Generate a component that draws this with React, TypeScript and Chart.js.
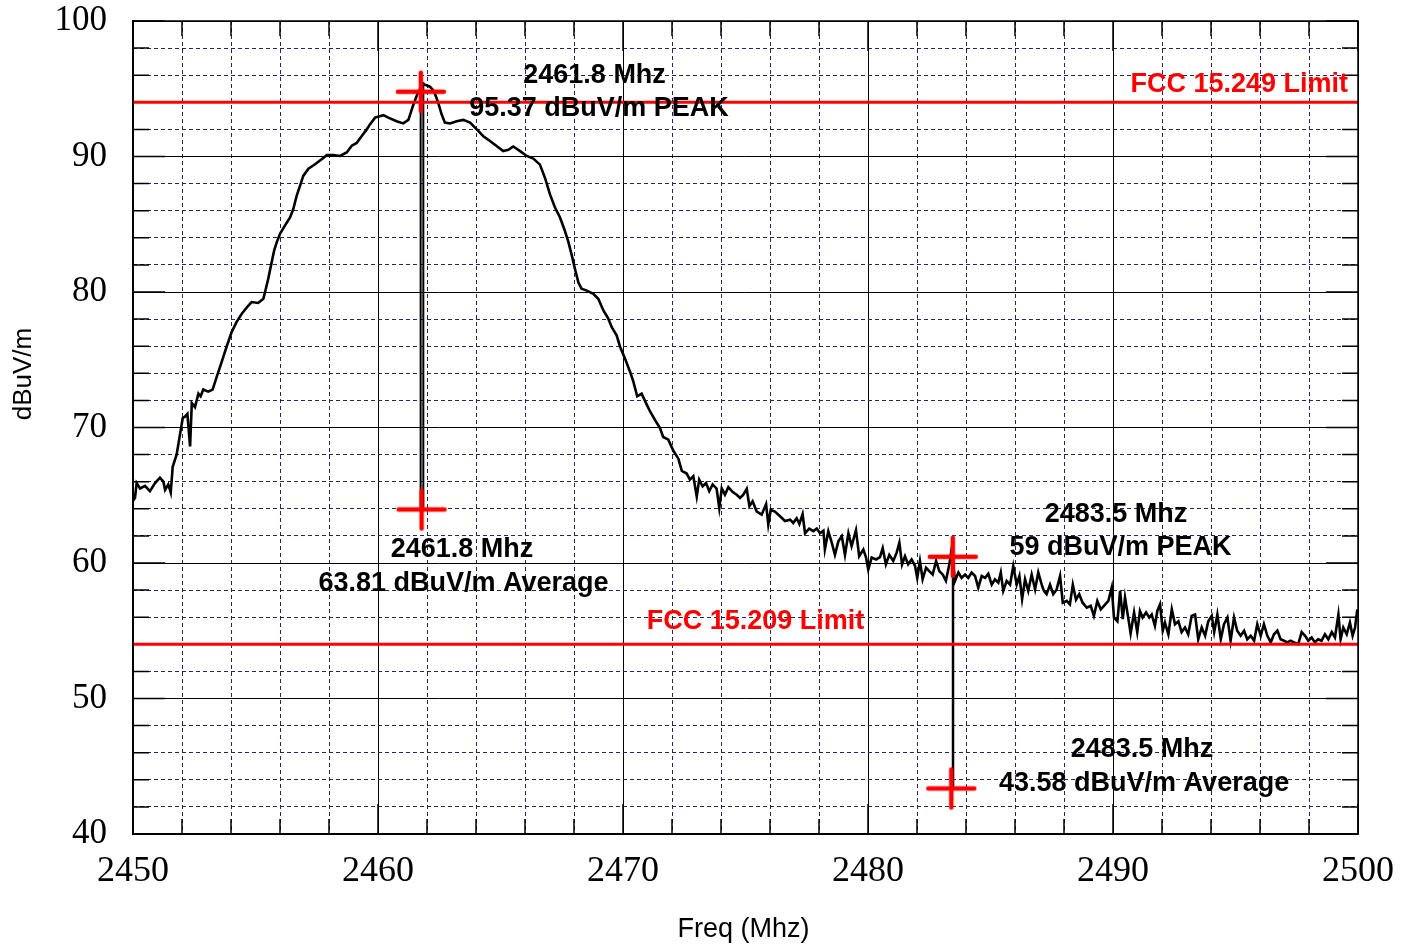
import React, { useEffect, useRef } from 'react';
import { Chart, registerables } from 'chart.js';

Chart.register(...registerables);

// ---- data ----
const traceFreq = [
  2450.00, 2450.08, 2450.15, 2450.29, 2450.49, 2450.69, 2450.90, 2451.10, 2451.24, 2451.31,
  2451.44, 2451.54, 2451.62, 2451.78, 2451.92, 2452.03, 2452.12, 2452.22, 2452.33, 2452.40,
  2452.53, 2452.67, 2452.76, 2452.87, 2453.07, 2453.25, 2453.42, 2453.62, 2453.82, 2454.03,
  2454.23, 2454.44, 2454.71, 2454.84, 2455.11, 2455.32, 2455.39, 2455.52, 2455.66, 2455.76,
  2455.87, 2456.00, 2456.20, 2456.41, 2456.54, 2456.68, 2456.82, 2456.95, 2457.16, 2457.43,
  2457.70, 2457.91, 2458.18, 2458.45, 2458.72, 2458.93, 2459.13, 2459.33, 2459.54, 2459.67,
  2459.88, 2460.22, 2460.42, 2460.76, 2461.03, 2461.24, 2461.42, 2461.60, 2461.74, 2461.88,
  2462.12, 2462.29, 2462.46, 2462.60, 2462.73, 2462.94, 2463.21, 2463.48, 2463.76, 2464.03,
  2464.30, 2464.57, 2464.84, 2465.11, 2465.32, 2465.52, 2465.80, 2466.07, 2466.34, 2466.61,
  2466.82, 2467.02, 2467.22, 2467.43, 2467.63, 2467.77, 2467.91, 2468.04, 2468.18, 2468.31,
  2468.52, 2468.79, 2468.99, 2469.20, 2469.40, 2469.54, 2469.74, 2469.88, 2470.08, 2470.29,
  2470.42, 2470.58, 2470.76, 2470.94, 2471.10, 2471.31, 2471.51, 2471.64, 2471.85, 2472.05,
  2472.26, 2472.40, 2472.60, 2472.73, 2472.87, 2473.01, 2473.11, 2473.25, 2473.39, 2473.52,
  2473.66, 2473.82, 2473.93, 2474.03, 2474.16, 2474.30, 2474.48, 2474.64, 2474.78, 2474.91,
  2475.05, 2475.16, 2475.29, 2475.46, 2475.66, 2475.84, 2475.93, 2476.03, 2476.20, 2476.41,
  2476.61, 2476.82, 2476.95, 2477.09, 2477.20, 2477.33, 2477.43, 2477.60, 2477.77, 2477.91,
  2478.04, 2478.18, 2478.24, 2478.38, 2478.52, 2478.65, 2478.79, 2478.93, 2479.06, 2479.20,
  2479.33, 2479.51, 2479.64, 2479.81, 2479.92, 2480.01, 2480.15, 2480.33, 2480.49, 2480.60,
  2480.73, 2480.87, 2481.03, 2481.17, 2481.28, 2481.39, 2481.51, 2481.64, 2481.78, 2481.92,
  2482.01, 2482.12, 2482.23, 2482.37, 2482.50, 2482.64, 2482.78, 2482.91, 2483.05, 2483.18,
  2483.32, 2483.42, 2483.55, 2483.69, 2483.82, 2483.96, 2484.09, 2484.23, 2484.37, 2484.50,
  2484.64, 2484.78, 2484.91, 2485.05, 2485.18, 2485.32, 2485.42, 2485.52, 2485.66, 2485.80,
  2485.93, 2486.07, 2486.18, 2486.29, 2486.41, 2486.54, 2486.68, 2486.82, 2486.95, 2487.09,
  2487.18, 2487.29, 2487.43, 2487.56, 2487.70, 2487.84, 2487.95, 2488.11, 2488.24, 2488.36,
  2488.49, 2488.62, 2488.76, 2488.93, 2489.09, 2489.22, 2489.36, 2489.50, 2489.63, 2489.81,
  2489.95, 2490.04, 2490.18, 2490.29, 2490.40, 2490.49, 2490.62, 2490.72, 2490.86, 2490.99,
  2491.10, 2491.21, 2491.35, 2491.48, 2491.58, 2491.71, 2491.81, 2491.92, 2492.03, 2492.12,
  2492.26, 2492.40, 2492.53, 2492.67, 2492.80, 2492.94, 2493.07, 2493.21, 2493.35, 2493.48,
  2493.62, 2493.76, 2493.89, 2494.03, 2494.13, 2494.26, 2494.40, 2494.53, 2494.67, 2494.80,
  2494.94, 2495.07, 2495.21, 2495.35, 2495.48, 2495.62, 2495.76, 2495.89, 2496.03, 2496.16,
  2496.30, 2496.44, 2496.57, 2496.71, 2496.84, 2496.98, 2497.11, 2497.25, 2497.39, 2497.56,
  2497.70, 2497.84, 2497.97, 2498.11, 2498.24, 2498.37, 2498.51, 2498.65, 2498.79, 2498.93,
  2499.06, 2499.20, 2499.29, 2499.40, 2499.54, 2499.67, 2499.78, 2499.88, 2499.97,
];

const traceLevel = [
  64.6, 64.8, 65.9, 65.5, 65.7, 65.3, 65.9, 66.3, 66.0, 65.4,
  65.8, 65.2, 67.1, 68.0, 69.5, 70.7, 70.8, 71.0, 68.6, 71.8,
  71.5, 72.5, 72.3, 72.8, 72.65, 72.8, 73.75, 74.85, 75.96, 77.06,
  77.8, 78.4, 79.0, 79.26, 79.19, 79.5, 80.0, 80.98, 82.2, 83.06,
  83.68, 84.29, 84.9, 85.5, 86.1, 87.1, 87.85, 88.57, 89.1, 89.43,
  89.8, 90.1, 90.1, 90.04, 90.3, 90.8, 91.0, 91.5, 92.0, 92.37,
  92.87, 93.05, 92.87, 92.6, 92.44, 92.7, 93.7, 94.58, 95.07, 95.32,
  95.15, 94.8, 93.96, 93.1, 92.5, 92.44, 92.6, 92.7, 92.5, 92.0,
  91.5, 91.14, 90.78, 90.4, 90.5, 90.74, 90.4, 90.04, 89.85, 89.4,
  88.4, 87.2, 86.25, 85.5, 84.5, 83.7, 82.7, 81.7, 80.7, 80.24,
  80.1, 79.87, 79.5, 78.64, 78.03, 77.4, 76.8, 75.96, 75.1, 74.1,
  73.4, 72.3, 72.5, 71.8, 71.2, 70.55, 69.95, 69.3, 69.1, 68.3,
  67.7, 66.8, 66.6, 66.15, 66.4, 64.9, 66.15, 65.66, 65.9, 65.3,
  65.8, 65.5, 64.06, 65.5, 65.04, 65.6, 65.24, 65.04, 64.8, 65.04,
  65.48, 64.2, 64.56, 63.8, 63.57, 64.35, 62.83, 63.93, 63.8, 63.45,
  63.1, 63.2, 62.96, 63.3, 62.88, 63.6, 62.2, 62.54, 62.35, 62.54,
  62.2, 62.39, 61.0, 62.35, 61.5, 60.6, 61.6, 61.98, 60.6, 62.2,
  61.25, 62.43, 60.5, 61.0, 60.4, 59.52, 60.4, 60.26, 60.44, 61.1,
  59.9, 60.6, 60.15, 60.76, 61.5, 59.9, 60.5, 59.9, 60.26, 59.78,
  58.9, 60.15, 58.8, 59.65, 59.4, 59.15, 60.15, 59.4, 59.15, 58.68,
  59.9, 61.1, 58.68, 59.3, 58.9, 59.15, 58.9, 59.3, 59.04, 58.18,
  59.04, 58.9, 59.2, 58.4, 58.8, 58.55, 59.3, 57.94, 58.68, 58.4,
  59.78, 58.4, 59.04, 57.33, 58.8, 57.94, 59.15, 58.05, 59.3, 58.4,
  57.94, 57.7, 58.4, 57.7, 58.05, 59.04, 57.07, 57.2, 56.95, 58.4,
  57.3, 57.7, 57.07, 56.7, 56.84, 56.1, 57.2, 56.58, 56.84, 57.2,
  58.2, 55.97, 55.7, 57.94, 55.85, 57.45, 55.97, 54.8, 56.35, 54.9,
  56.46, 55.97, 56.35, 55.97, 56.2, 55.37, 56.46, 56.95, 55.0, 55.6,
  54.74, 56.58, 55.48, 55.7, 54.9, 55.24, 54.74, 56.1, 56.2, 54.37,
  55.24, 54.63, 55.7, 56.1, 54.9, 56.2, 54.37, 55.48, 55.97, 54.26,
  55.97, 55.0, 54.63, 55.0, 54.37, 54.63, 54.26, 55.48, 54.63, 55.48,
  54.63, 54.14, 54.74, 55.0, 54.37, 54.26, 54.14, 54.26, 54.14, 54.0,
  54.9, 54.63, 54.26, 54.5, 54.14, 54.37, 54.26, 54.74, 54.37, 54.9,
  54.5, 56.2, 54.37, 55.24, 54.74, 55.6, 54.63, 55.24, 56.58,
];

const limitFreq = [2450, 2500];
const fcc15249Level = [94, 94];
const fcc15209Level = [54, 54];

// marker crosses: peak 1, average 1, peak 2, average 2
const markerFreq = [2461.75, 2461.78, 2483.46, 2483.4];
const markerLevel = [94.78, 63.95, 60.46, 43.36];

// vertical marker lines
const bandEdgeLowFreqA = [2461.74, 2461.74];
const bandEdgeLowFreqB = [2461.85, 2461.85];
const bandEdgeLowLevel = [95.5, 63.95];
const bandEdgeHighFreq = [2483.47, 2483.47];
const bandEdgeHighLevel = [60.46, 43.36];

const xTickValues = [2450, 2460, 2470, 2480, 2490, 2500];
const yTickValues = [40, 50, 60, 70, 80, 90, 100];

const labelTexts = [
  '2461.8 Mhz',
  '95.37 dBuV/m PEAK',
  'FCC 15.249 Limit',
  'FCC 15.209 Limit',
  '2461.8 Mhz',
  '63.81 dBuV/m Average',
  '2483.5 Mhz',
  '59 dBuV/m PEAK',
  '2483.5 Mhz',
  '43.58 dBuV/m Average',
];

// ---- layout / style for the labels (anchor in data units) ----
const labelLayout = [
  { x: 2468.84, y: 95.42, align: 'center', color: '#000' },
  { x: 2469.02, y: 92.98, align: 'center', color: '#000' },
  { x: 2499.59, y: 94.78, align: 'right', color: '#ff0000' },
  { x: 2475.41, y: 55.1, align: 'center', color: '#ff0000' },
  { x: 2463.43, y: 60.42, align: 'center', color: '#000' },
  { x: 2463.49, y: 57.95, align: 'center', color: '#000' },
  { x: 2490.12, y: 63.06, align: 'center', color: '#000' },
  { x: 2490.31, y: 60.58, align: 'center', color: '#000' },
  { x: 2491.18, y: 45.66, align: 'center', color: '#000' },
  { x: 2491.27, y: 43.17, align: 'center', color: '#000' },
];

const pts = (xs: number[], ys: number[]) => xs.map((x, i) => ({ x, y: ys[i] }));

function makePlus(): HTMLCanvasElement {
  const c = document.createElement('canvas');
  c.width = 54;
  c.height = 46;
  const g = c.getContext('2d')!;
  g.strokeStyle = '#ff0000';
  g.lineWidth = 4.5;
  g.lineCap = 'round';
  g.beginPath();
  g.moveTo(4, 23);
  g.lineTo(50, 23);
  g.moveTo(27, 4);
  g.lineTo(27, 42);
  g.stroke();
  return c;
}

const isMajor = (v: number) => Math.abs(v / 10 - Math.round(v / 10)) < 1e-6;

const overlayPlugin = {
  id: 'overlay',
  beforeDatasetsDraw(chart: any) {
    const { ctx, chartArea: a, scales } = chart;
    ctx.save();
    ctx.strokeStyle = '#000';
    ctx.lineWidth = 1.5;
    ctx.beginPath();
    for (const t of scales.x2.ticks) {
      const px = scales.x.getPixelForValue(t.value);
      const len = isMajor(t.value) ? 30 : 15;
      ctx.moveTo(px, a.top);
      ctx.lineTo(px, a.top + len);
      ctx.moveTo(px, a.bottom);
      ctx.lineTo(px, a.bottom - len);
    }
    for (const t of scales.y2.ticks) {
      const py = scales.y.getPixelForValue(t.value);
      const len = isMajor(t.value) ? 32 : 16;
      ctx.moveTo(a.left, py);
      ctx.lineTo(a.left + len, py);
      ctx.moveTo(a.right, py);
      ctx.lineTo(a.right - len, py);
    }
    ctx.stroke();
    ctx.restore();
  },
  afterDatasetsDraw(chart: any) {
    const { ctx, chartArea: a, scales } = chart;
    ctx.save();
    ctx.strokeStyle = '#000';
    ctx.lineWidth = 1.5;
    ctx.strokeRect(a.left, a.top, a.right - a.left, a.bottom - a.top);
    ctx.font = 'bold 27px "Liberation Sans", Arial, sans-serif';
    ctx.textBaseline = 'alphabetic';
    labelTexts.forEach((txt, i) => {
      const l = labelLayout[i];
      ctx.fillStyle = l.color;
      ctx.textAlign = l.align as CanvasTextAlign;
      ctx.fillText(txt, scales.x.getPixelForValue(l.x), scales.y.getPixelForValue(l.y));
    });
    ctx.restore();
  },
  afterDraw(chart: any) {
    const { ctx, chartArea: a } = chart;
    ctx.save();
    ctx.fillStyle = '#000';
    ctx.textAlign = 'center';
    ctx.textBaseline = 'alphabetic';
    ctx.font = '27px "Liberation Sans", Arial, sans-serif';
    ctx.fillText('Freq (Mhz)', (a.left + a.right) / 2 - 2, 937);
    ctx.font = '26px "Liberation Sans", Arial, sans-serif';
    ctx.translate(31, 374);
    ctx.rotate(-Math.PI / 2);
    ctx.fillText('dBuV/m', 0, 0);
    ctx.restore();
  },
};

export default function App() {
  const ref = useRef<HTMLCanvasElement | null>(null);

  useEffect(() => {
    document.body.style.margin = '0';
    const canvas = ref.current!;
    const plus = makePlus();
    const serif = '"Liberation Serif", "Times New Roman", serif';
    const noPad = (s: any) => {
      s.paddingTop = 0;
      s.paddingBottom = 0;
      s.paddingLeft = 0;
      s.paddingRight = 0;
    };

    const chart = new Chart(canvas, {
      type: 'line',
      data: {
        datasets: [
          {
            label: 'markers',
            data: pts(markerFreq, markerLevel),
            showLine: false,
            pointStyle: plus as any,
            pointRadius: 20,
            order: 0,
            xAxisID: 'x',
            yAxisID: 'y',
          },
          {
            label: 'FCC 15.249',
            data: pts(limitFreq, fcc15249Level),
            borderColor: '#ff0000',
            borderWidth: 3,
            pointRadius: 0,
            order: 1,
            xAxisID: 'x',
            yAxisID: 'y',
          },
          {
            label: 'FCC 15.209',
            data: pts(limitFreq, fcc15209Level),
            borderColor: '#ff0000',
            borderWidth: 3,
            pointRadius: 0,
            order: 1,
            xAxisID: 'x',
            yAxisID: 'y',
          },
          {
            label: 'edge low A',
            data: pts(bandEdgeLowFreqA, bandEdgeLowLevel),
            borderColor: '#000',
            borderWidth: 2,
            pointRadius: 0,
            order: 2,
            xAxisID: 'x',
            yAxisID: 'y',
          },
          {
            label: 'edge low B',
            data: pts(bandEdgeLowFreqB, bandEdgeLowLevel),
            borderColor: '#000',
            borderWidth: 2,
            pointRadius: 0,
            order: 2,
            xAxisID: 'x',
            yAxisID: 'y',
          },
          {
            label: 'edge high',
            data: pts(bandEdgeHighFreq, bandEdgeHighLevel),
            borderColor: '#000',
            borderWidth: 2.5,
            pointRadius: 0,
            order: 2,
            xAxisID: 'x',
            yAxisID: 'y',
          },
          {
            label: 'trace',
            data: pts(traceFreq, traceLevel),
            borderColor: '#000',
            borderWidth: 2.6,
            pointRadius: 0,
            tension: 0,
            order: 3,
            xAxisID: 'x',
            yAxisID: 'y',
          },
        ],
      },
      options: {
        responsive: false,
        animation: false,
        devicePixelRatio: 1,
        layout: { padding: { top: 18, right: 52, left: 0, bottom: 0 } },
        plugins: {
          legend: { display: false },
          tooltip: { enabled: false },
          title: { display: false },
        },
        events: [],
        scales: {
          x: {
            type: 'linear',
            position: 'bottom',
            min: 2450,
            max: 2500,
            afterBuildTicks: (s: any) => {
              s.ticks = xTickValues.map((v) => ({ value: v }));
            },
            ticks: {
              font: { family: serif, size: 36, lineHeight: 1 },
              color: '#000',
              padding: 20,
              maxRotation: 0,
              autoSkip: false,
              callback: (v: any) => String(v),
            },
            grid: { color: '#000', lineWidth: 1, drawTicks: false },
            border: { display: true, color: '#000', width: 1.5 },
            afterFit: (s: any) => {
              s.height = 114;
              noPad(s);
            },
          },
          x2: {
            type: 'linear',
            position: 'bottom',
            min: 2450,
            max: 2500,
            ticks: { display: false, stepSize: 2 },
            grid: {
              color: (c: any) => (c.tick && isMajor(c.tick.value) ? 'rgba(0,0,0,0)' : '#25255f'),
              lineWidth: 1,
              drawTicks: false,
            },
            border: { display: false, dash: [4, 3] },
            afterFit: (s: any) => {
              s.height = 0;
              noPad(s);
            },
          },
          y: {
            type: 'linear',
            position: 'left',
            min: 40,
            max: 100,
            afterBuildTicks: (s: any) => {
              s.ticks = yTickValues.map((v) => ({ value: v }));
            },
            ticks: {
              font: { family: serif, size: 35, lineHeight: 1 },
              color: '#000',
              padding: 26,
              callback: (v: any) => String(v),
            },
            grid: { color: '#000', lineWidth: 1, drawTicks: false },
            border: { display: true, color: '#000', width: 1.5 },
            afterFit: (s: any) => {
              s.width = 133;
              noPad(s);
            },
          },
          y2: {
            type: 'linear',
            position: 'left',
            min: 40,
            max: 100,
            ticks: { display: false, stepSize: 2 },
            grid: {
              color: (c: any) => (c.tick && isMajor(c.tick.value) ? 'rgba(0,0,0,0)' : '#25255f'),
              lineWidth: 1,
              drawTicks: false,
            },
            border: { display: false, dash: [4, 3] },
            afterFit: (s: any) => {
              s.width = 0;
              noPad(s);
            },
          },
        },
      },
      plugins: [overlayPlugin],
    } as any);

    return () => chart.destroy();
  }, []);

  return (
    <div style={{ position: 'absolute', left: 0, top: 0, width: 1410, height: 948, background: '#fff' }}>
      <canvas ref={ref} width={1410} height={948} style={{ display: 'block' }} />
    </div>
  );
}
